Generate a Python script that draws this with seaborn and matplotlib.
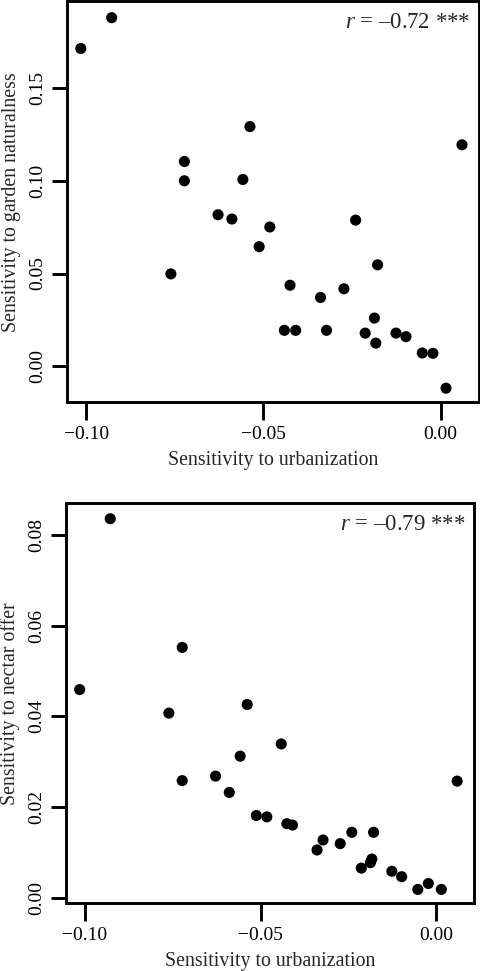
import matplotlib
matplotlib.use("Agg")
import matplotlib.pyplot as plt
import seaborn as sns
import pandas as pd

# ---- data ----
urbanization = [-0.1015, -0.0928, -0.0761, -0.0723, -0.0723, -0.0628, -0.0589,
                -0.0558, -0.0538, -0.0512, -0.0482, -0.0441, -0.0425, -0.0409,
                -0.0339, -0.0322, -0.0273, -0.0240, -0.0213, -0.0187, -0.0183,
                -0.0178, -0.0126, -0.0098, -0.0052, -0.0022, 0.0015, 0.0060]
garden_naturalness = [0.1713, 0.1879, 0.0498, 0.1104, 0.1000, 0.0817, 0.0794,
                      0.1007, 0.1292, 0.0645, 0.0751, 0.0194, 0.0437, 0.0194,
                      0.0371, 0.0194, 0.0418, 0.0788, 0.0179, 0.0260, 0.0125,
                      0.0547, 0.0179, 0.0160, 0.0072, 0.0070, -0.0118, 0.1194]
nectar_offer = [0.0459, 0.0836, 0.0407, 0.0552, 0.0258, 0.0268, 0.0232,
                0.0312, 0.0426, 0.0181, 0.0178, 0.0339, 0.0163, 0.0160,
                0.0105, 0.0127, 0.0119, 0.0144, 0.0065, 0.0077, 0.0085,
                0.0144, 0.0058, 0.0046, 0.0018, 0.0031, 0.0018, 0.0257]

x_ticks = [-0.10, -0.05, 0.00]
x_ticklabels = ["\u22120.10", "\u22120.05", "0.00"]
y_ticks_top = [0.00, 0.05, 0.10, 0.15]
y_ticklabels_top = ["0.00", "0.05", "0.10", "0.15"]
y_ticks_bot = [0.00, 0.02, 0.04, 0.06, 0.08]
y_ticklabels_bot = ["0.00", "0.02", "0.04", "0.06", "0.08"]
r_labels = ["$r$ = \u20130.72 ***", "$r$ = \u20130.79 ***"]
x_label = "Sensitivity to urbanization"
y_labels = ["Sensitivity to garden naturalness", "Sensitivity to nectar offer"]

df = pd.DataFrame({"urb": urbanization, "garden": garden_naturalness,
                   "nectar": nectar_offer})

sns.set_style("ticks")
plt.rcParams["font.family"] = ["Liberation Serif", "DejaVu Serif"]
plt.rcParams["mathtext.fontset"] = "custom"
plt.rcParams["mathtext.rm"] = "Liberation Serif"
plt.rcParams["mathtext.it"] = "Liberation Serif:italic"

fig = plt.figure(figsize=(4.8, 9.71), dpi=100)
W, H = 480.0, 971.0
# axes rectangles in pixels: left, top, right, bottom
rects = [(67, 1, 479, 402.5), (66, 503.3, 474, 903)]
ylims = [(-0.0195, 0.1969), (-0.0012, 0.0870)]
xlims = [(-0.1054, 0.0108), (-0.1054, 0.0108)]
ycols = ["garden", "nectar"]
yticks = [(y_ticks_top, y_ticklabels_top), (y_ticks_bot, y_ticklabels_bot)]

for i in range(2):
    l, t, r, b = rects[i]
    ax = fig.add_axes([l / W, 1 - b / H, (r - l) / W, (b - t) / H])
    sns.scatterplot(data=df, x="urb", y=ycols[i], ax=ax, color="black",
                    edgecolor="none", s=64, linewidth=0)
    ax.set_xlim(*xlims[i])
    ax.set_ylim(*ylims[i])
    ax.set_xticks(x_ticks)
    ax.set_xticklabels(x_ticklabels)
    ax.set_yticks(yticks[i][0])
    ax.set_yticklabels(yticks[i][1], rotation=90, va="center")
    for sp in ax.spines.values():
        sp.set_visible(True)
        sp.set_linewidth(2.1)
        sp.set_color("black")
    ax.tick_params(axis="both", direction="out", width=2.1, color="black",
                   labelsize=14, labelcolor="black")
    ax.tick_params(axis="x", length=13, pad=4)
    ax.tick_params(axis="y", length=11, pad=4)
    ax.set_xlabel(x_label, fontsize=14.3, labelpad=6)
    ax.set_ylabel(y_labels[i], fontsize=14.3, labelpad=6)
    ax.annotate(r_labels[i], xy=(1, 1), xycoords="axes fraction",
                xytext=(-6.0, -19.5), textcoords="offset points",
                ha="right", va="baseline", fontsize=16.5)

fig.savefig("out.png", dpi=100, facecolor="white")
